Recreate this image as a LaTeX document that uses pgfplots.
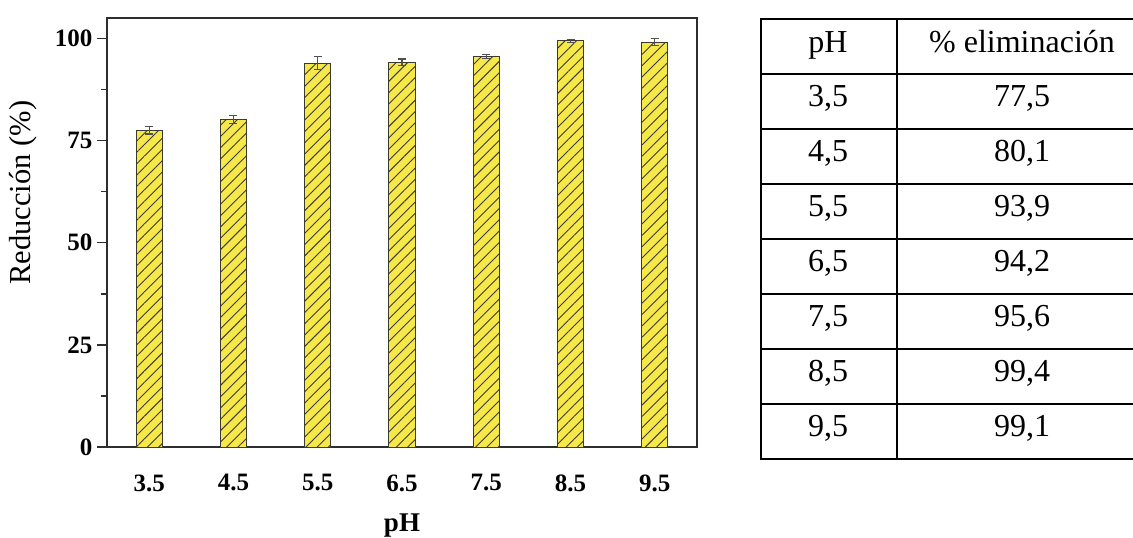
\documentclass[border=0pt]{standalone}
\usepackage{fontspec}
\setmainfont{Liberation Serif}
\usepackage{pgfplots}
\pgfplotsset{compat=1.18}
\usetikzlibrary{patterns.meta}
\definecolor{baryellow}{HTML}{F7E84A}
\definecolor{hatchc}{HTML}{3A3A2E}
\definecolor{errgray}{HTML}{505050}
\definecolor{axc}{HTML}{2E2E2E}

\pgfplotstableread{
x y e
0 77.5 0.9
1 80.1 1.0
2 93.9 1.6
3 94.2 0.75
4 95.6 0.5
5 99.4 0.3
6 99.1 0.9
}\datatable

\begin{document}
\begin{tikzpicture}[x=1pt,y=1pt]
\path[use as bounding box] (0,0) rectangle (1133,-538);
\begin{axis}[
  at={(107pt,-447pt)}, anchor=south west,
  width=590pt, height=429pt, scale only axis,
  xmin=-0.5, xmax=6.5, ymin=0, ymax=105,
  xtick={0,1,2,3,4,5,6},
  xticklabels={3.5,4.5,5.5,6.5,7.5,8.5,9.5},
  ytick={0,25,50,75,100},
  minor ytick={12.5,37.5,62.5,87.5},
  ytick pos=left,
  tick align=outside,
  major tick length=10pt, minor tick length=6pt,
  tick style={line width=1.5pt, color=axc},
  xtick style={draw=none},
  axis line style={line width=2pt, color=axc},
  /pgf/number format/assume math mode=true,
  yticklabel style={font=\bfseries\fontsize{25}{25}\selectfont, xshift=-1pt},
  xticklabel style={font=\bfseries\fontsize{25}{25}\selectfont, yshift=-14pt},
  ylabel={Reducción (\%)},
  ylabel style={font=\fontsize{30.5}{30.5}\selectfont, at={(axis description cs:-0.142,0.593)}, anchor=center},
  xlabel={pH},
  xlabel style={font=\bfseries\fontsize{27}{27}\selectfont, at={(axis description cs:0.5,-0.196)}, anchor=base},
  bar shift=0pt,
]
\addplot[ybar, bar width=26pt, fill=baryellow, draw=hatchc, line width=1pt,
  postaction={pattern={Lines[angle=45,distance=8pt,line width=0.9pt]}, pattern color=hatchc}]
  table[x=x,y=y] {\datatable};
\addplot[draw=none, mark=none, forget plot,
  error bars/.cd, y dir=both, y explicit,
  error bar style={draw=errgray, line width=1.2pt, solid},
  error mark options={rotate=90, mark size=4pt, draw=errgray, line width=1.2pt}]
  table[x=x,y=y,y error=e] {\datatable};
\end{axis}
% table
\begin{scope}[line width=2pt]
\foreach \yy in {19,74,129,184,239,294,349,404,459} {
  \draw (760,-\yy) -- (1140,-\yy);
}
\draw (761,-18) -- (761,-460);
\draw (897,-18) -- (897,-460);
\end{scope}
\begin{scope}[every node/.style={font=\fontsize{32}{32}\selectfont, anchor=base, inner sep=0pt}]
\node at (828,-52) {pH};
\node at (1022,-52) {\% eliminación};
\node at (828,-106) {3,5}; \node at (1022,-106) {77,5};
\node at (828,-161) {4,5}; \node at (1022,-161) {80,1};
\node at (828,-216) {5,5}; \node at (1022,-216) {93,9};
\node at (828,-271) {6,5}; \node at (1022,-271) {94,2};
\node at (828,-326) {7,5}; \node at (1022,-326) {95,6};
\node at (828,-381) {8,5}; \node at (1022,-381) {99,4};
\node at (828,-436) {9,5}; \node at (1022,-436) {99,1};
\end{scope}
\end{tikzpicture}
\end{document}
